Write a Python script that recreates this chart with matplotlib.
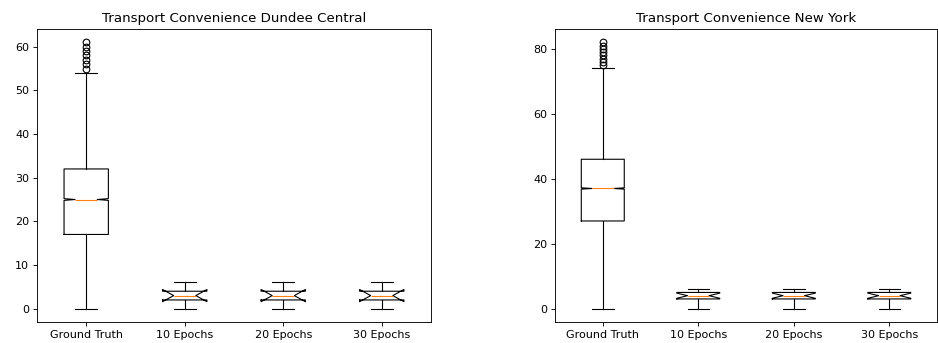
import matplotlib.pyplot as plt

labels = ["Ground Truth", "10 Epochs", "20 Epochs", "30 Epochs"]

# Dundee Central: q1, median, q3, whisker low, whisker high, notch low, notch high
dundee_q1 = [17, 2, 2, 2]
dundee_med = [25, 3, 3, 3]
dundee_q3 = [32, 4, 4, 4]
dundee_lo = [0, 0, 0, 0]
dundee_hi = [54, 6, 6, 6]
dundee_cilo = [24.8, 1.6, 1.6, 1.6]
dundee_cihi = [25.2, 4.4, 4.4, 4.4]
dundee_fliers = [[55, 56, 57, 58, 59, 60, 61], [], [], []]

# New York
ny_q1 = [27, 3, 3, 3]
ny_med = [37, 4, 4, 4]
ny_q3 = [46, 5, 5, 5]
ny_lo = [0, 0, 0, 0]
ny_hi = [74, 6, 6, 6]
ny_cilo = [36.8, 3.2, 3.2, 3.2]
ny_cihi = [37.2, 4.8, 4.8, 4.8]
ny_fliers = [[75, 76, 77, 78, 79, 80, 81, 82], [], [], []]


def make_stats(q1, med, q3, lo, hi, cilo, cihi, fliers):
    stats = []
    for i in range(len(labels)):
        stats.append({
            "label": labels[i], "q1": q1[i], "med": med[i], "q3": q3[i],
            "whislo": lo[i], "whishi": hi[i], "cilo": cilo[i], "cihi": cihi[i],
            "fliers": fliers[i],
        })
    return stats


fig = plt.figure(figsize=(938 / 80, 343 / 80), dpi=80)
ax1 = fig.add_axes([0.0394, 0.0612, 0.4201, 0.8543])
ax2 = fig.add_axes([0.5917, 0.0612, 0.4073, 0.8543])

ax1.bxp(make_stats(dundee_q1, dundee_med, dundee_q3, dundee_lo, dundee_hi,
                   dundee_cilo, dundee_cihi, dundee_fliers), shownotches=True)
ax1.set_title("Transport Convenience Dundee Central")

ax2.bxp(make_stats(ny_q1, ny_med, ny_q3, ny_lo, ny_hi,
                   ny_cilo, ny_cihi, ny_fliers), shownotches=True)
ax2.set_title("Transport Convenience New York")
ax2.set_yticks([0, 20, 40, 60, 80])

fig.savefig("out.png", dpi=80)
